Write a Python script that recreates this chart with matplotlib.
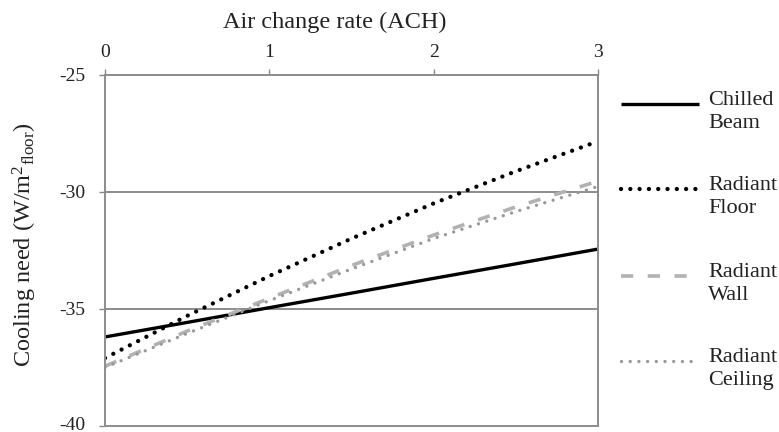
import matplotlib
matplotlib.use("Agg")
import matplotlib.pyplot as plt
import matplotlib.transforms as mtransforms
from matplotlib.lines import Line2D

plt.rcParams['font.family'] = ['Liberation Serif', 'DejaVu Serif']
plt.rcParams['mathtext.fontset'] = 'custom'
plt.rcParams['mathtext.rm'] = 'Liberation Serif'
plt.rcParams['mathtext.it'] = 'Liberation Serif:italic'
plt.rcParams['axes.unicode_minus'] = False

# Air change rate (ACH)
ach = [0, 0.5, 1, 1.5, 2, 2.5, 3]

# Cooling need (W/m2 floor) per system
chilled_beam = [-36.2, -35.58, -34.95, -34.33, -33.7, -33.08, -32.45]
radiant_floor = [-37.1, -35.3, -33.6, -32.0, -30.5, -29.13, -27.85]
radiant_wall = [-37.45, -35.95, -34.55, -33.15, -31.85, -30.65, -29.55]
radiant_ceiling = [-37.5, -36.05, -34.65, -33.3, -32.0, -30.85, -29.78]

series_names = ["Chilled\nBeam", "Radiant\nFloor", "Radiant\nWall", "Radiant\nCeiling"]

x_ticks = [0, 1, 2, 3]
y_ticks = [-40, -35, -30, -25]

W, H = 779, 432
fig = plt.figure(figsize=(W / 100, H / 100), dpi=100)
ax = fig.add_axes([105 / W, 1 - 426 / H, (598 - 105) / W, (426 - 74.5) / H])

styles = [
    dict(color="black", lw=2.4, ls="-"),
    dict(color="black", lw=3.1, ls=(0, (0.01, 2.15)), dash_capstyle="round"),
    dict(color="#b2b2b2", lw=2.6, ls=(0, (3.4, 4.0))),
    dict(color="#999999", lw=2.4, ls=(0, (0.01, 2.6)), dash_capstyle="round"),
]
all_series = [chilled_beam, radiant_floor, radiant_wall, radiant_ceiling]

for ys, st in zip(all_series, styles):
    ax.plot(ach, ys, solid_capstyle="butt", **st)

ax.set_xlim(0, 3)
ax.set_ylim(-40, -25)
ax.set_xticks(x_ticks)
ax.set_yticks(y_ticks)
ax.xaxis.tick_top()
ax.xaxis.set_label_position("top")
ax.tick_params(axis="both", direction="out", length=4, width=1, color="#888888",
               labelsize=14, labelcolor="#222222")
ax.tick_params(axis="y", pad=10)
ax.tick_params(axis="x", pad=6)
ax.set_xlabel("Air change rate (ACH)", fontsize=17.5, color="#222222")
ax.xaxis.set_label_coords((335 - 105) / (598 - 105), (426 - 22) / (426 - 74.5))
ax.xaxis.label.set_va("center")
ax.set_ylabel(r"Cooling need (W/m$^{2}$$_{\mathregular{floor}}$)", fontsize=17.5,
              color="#222222")
ax.yaxis.set_label_coords(-(105 - 25) / (598 - 105), (426 - 245) / (426 - 74.5))
ax.yaxis.label.set_va("center")

# keep the lowest y tick label inside the figure
lowest = ax.get_yticklabels()[0]
lowest.set_transform(lowest.get_transform()
                     + mtransforms.ScaledTranslation(0, 3 / 100, fig.dpi_scale_trans))

for s in ax.spines.values():
    s.set_color("#8c8c8c")
    s.set_linewidth(1.4)
for yv in [-35, -30]:
    ax.axhline(yv, color="#8c8c8c", lw=1.4, zorder=0.5)

# Legend drawn at the right of the axes
entry_rows = [104, 189, 276, 361]
for name, st, yp in zip(series_names, styles, entry_rows):
    yf = 1 - yp / H
    line = Line2D([621 / W, 699 / W], [yf, yf], transform=fig.transFigure,
                  solid_capstyle="butt", **st)
    fig.add_artist(line)
    fig.text(708 / W, 1 - (yp - 13) / H, name, fontsize=16, va="top", ha="left",
             linespacing=1.28, color="#222222")

fig.savefig("out.png", dpi=100)
